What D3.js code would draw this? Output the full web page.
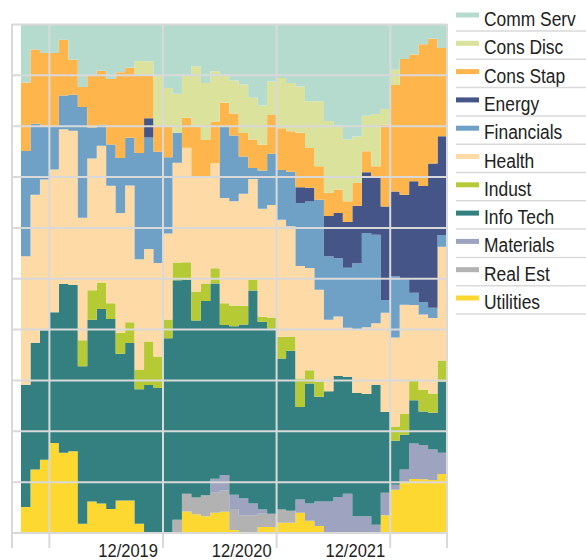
<!doctype html>
<meta charset="utf-8" />
<script src="https://cdn.jsdelivr.net/npm/d3@7"></script>
<style>
    body {
        margin: 0;
        background: white;
    }

    svg {
        display: block
    }

    text {
        font-family: "Liberation Sans", Arial, sans-serif;
        fill: #222;
    }
</style>
<svg id="chart"></svg>
<script>
    // sector weights (%) per month, 09/2018 .. 05/2022
    var sectors = ['Comm Serv', 'Cons Disc', 'Cons Stap', 'Energy', 'Financials', 'Health',
        'Indust', 'Info Tech', 'Materials', 'Real Est', 'Utilities'];
    var colors = ['#b5dbcf', '#dae29c', '#fdb54c', '#455588', '#6fa0c6', '#fedaa6',
        '#b5ca34', '#348080', '#9ea4c0', '#b2b2b2', '#fdd830'];

    var commServ = [11.4, 4.9, 5.6, 5.6, 3.0, 6.9, 12.3, 10.0, 9.1, 10.7,
        9.4, 8.5, 7.2, 7.2, 10.0, 12.5, 13.6, 10.0, 8.2, 11.5,
        9.2, 9.8, 11.0, 11.8, 14.4, 15.9, 11.2, 10.5, 11.5, 12.2,
        15.1, 15.1, 19.0, 19.9, 22.6, 22.0, 17.9, 17.6, 16.6, 8.9,
        6.8, 5.9, 3.9, 2.8, 4.6];
    var consDisc = [0, 0, 0, 0, 0, 0, 0, 0, 0, 0,
        0, 0, 2.7, 2.7, 10.0, 7.6, 7.7, 8.3, 11.8, 11.2,
        9.9, 5.6, 6.5, 9.5, 8.2, 7.7, 6.6, 9.9, 9.5, 9.1,
        9.2, 12.8, 14.1, 12.6, 12.1, 9.1, 7.0, 10.3, 3.1, 3.0,
        0, 0, 0, 0, 0];
    var consStap = [13.5, 14.6, 14.3, 14.4, 11.0, 6.9, 3.9, 10.3, 10.6, 12.9,
        16.9, 13.8, 15.4, 8.5, 5.0, 6.0, 0, 5.9, 10.0, 7.4,
        8.2, 4.6, 4.3, 4.6, 5.6, 5.1, 7.6, 8.2, 8.0, 10.7,
        7.8, 6.6, 4.6, 4.6, 4.1, 4.5, 4.1, 2.2, 16.1, 21.0,
        26.7, 24.9, 27.9, 24.5, 17.4];
    var energy = [0, 0, 0, 0, 0, 0, 0, 0, 0, 0,
        0, 0, 0, 3.8, 0, 0, 0, 0, 0, 0,
        0, 0, 0, 0, 0, 0, 0, 0, 0, 3.1,
        2.7, 0, 7.9, 8.9, 9.0, 11.3, 11.9, 11.3, 18.4, 16.7,
        16.7, 21.9, 22.9, 28.3, 19.4];
    var financials = [20.7, 14.0, 10.6, 8.5, 6.6, 7.1, 21.8, 6.1, 4.1, 8.1,
        10.8, 9.4, 20.9, 21.9, 21.9, 15.0, 5.9, 0, 0, 0,
        0, 14.1, 12.9, 7.3, 2.2, 7.5, 10.1, 9.8, 10.7, 12.4,
        13.1, 17.7, 12.5, 11.5, 11.8, 13.1, 18.5, 17.4, 2.5, 12.1,
        4.9, 2.4, 2.4, 2.0, 2.3];
    var health = [25.3, 29.1, 29.7, 28.1, 30.5, 30.3, 24.1, 25.9, 26.9, 23.1,
        23.6, 26.9, 21.7, 18.2, 18.4, 16.9, 19.6, 22.5, 22.5, 20.8,
        20.7, 20.7, 20.5, 22.0, 19.8, 21.2, 22.1, 23.0, 21.7, 22.1,
        20.1, 18.1, 14.1, 11.7, 9.6, 12.4, 13.1, 12.1, 19.5, 17.5,
        21.5, 14.8, 14.8, 14.8, 22.4];
    var indust = [0, 0, 0, 0, 0, 0, 5.1, 5.8, 5.2, 3.1,
        4.1, 4.1, 3.9, 8.5, 6.2, 3.7, 3.5, 3.5, 5.7, 3.4,
        3.0, 4.3, 4.1, 3.7, 2.1, 1.0, 2.2, 4.3, 2.8, 5.6,
        2.6, 3.0, 0, 0, 0, 0, 0, 0, 0, 2.8,
        4.1, 3.9, 4.3, 3.8, 4.1];
    var infoTech = [24.1, 24.9, 25.5, 25.7, 33.2, 32.7, 31.0, 35.8, 38.2, 37.4,
        28.9, 31.0, 26.5, 29.1, 28.5, 38.3, 47.1, 42.0, 34.8, 38.2,
        38.4, 29.5, 33.1, 34.1, 41.9, 36.9, 36.4, 29.7, 31.5, 18.2,
        23.6, 20.6, 21.7, 23.8, 23.0, 24.2, 24.0, 27.6, 15.9, 8.7,
        6.8, 8.5, 6.6, 7.2, 14.0];
    var materials = [0, 0, 0, 0, 0, 0, 0, 0, 0, 0,
        0, 0, 0, 0, 0, 0, 0, 0, 0, 0,
        2.8, 3.1, 2.8, 3.3, 2.3, 0.8, 0, 0, 0, 2.6,
        3.4, 4.8, 6.2, 7.1, 7.7, 3.3, 3.3, 1.6, 4.4, 1.0,
        2.6, 7.0, 6.7, 6.0, 4.2];
    var realEst = [0, 0, 0, 0, 0, 0, 0, 0, 0, 0,
        0, 0, 0, 0, 0, 0, 2.6, 3.5, 3.3, 4.1,
        3.9, 4.1, 4.1, 3.5, 3.5, 2.6, 2.6, 2.6, 2.4, 0,
        0, 0, 0, 0, 0, 0, 0, 0, 0, 0,
        0, 0, 0, 0, 0];
    var utilities = [5.1, 12.5, 14.4, 17.7, 15.8, 16.1, 1.8, 6.2, 5.8, 4.7,
        6.4, 6.4, 1.8, 0, 0, 0, 0, 4.2, 3.7, 3.3,
        4.0, 4.2, 0.6, 0, 0, 1.2, 1.2, 2.0, 2.0, 4.0,
        2.4, 1.4, 0, 0, 0, 0, 0, 0, 3.5, 8.5,
        9.9, 10.6, 10.6, 10.4, 11.6];

    var values = [commServ, consDisc, consStap, energy, financials, health,
        indust, infoTech, materials, realEst, utilities];

    var fmt = d3.timeFormat('%m/%Y');
    var months = d3.timeMonth.range(new Date(2018, 8, 1), new Date(2022, 5, 1)).map(fmt);
    var gridMonths = ['12/2018', '12/2019', '12/2020', '12/2021'];
    var tickLabels = ['12/2019', '12/2020', '12/2021'];

    var rows = months.map(function (m, i) {
        var r = { month: m, i: i };
        sectors.forEach(function (s, k) { r[s] = values[k][i]; });
        return r;
    });

    var W = 586, H = 560;
    var narrow = 0.87;
    var svg = d3.select('svg#chart')
        .attr('width', W)
        .attr('height', H);

    var x = d3.scaleLinear().domain([0, months.length]).range([21, 447]);
    var y = d3.scaleLinear().domain([0, 1]).range([533, 24.5]);

    var stack = d3.stack()
        .keys(sectors.slice().reverse())
        .offset(d3.stackOffsetExpand);
    var layers = stack(rows);

    var area = d3.area()
        .curve(d3.curveStepAfter)
        .x(d => x(d.i))
        .y0(d => y(d.y0))
        .y1(d => y(d.y1));

    svg.append('g')
        .selectAll('path')
        .data(layers)
        .enter()
        .append('path')
        .attr('fill', d => colors[sectors.indexOf(d.key)])
        .attr('d', function (d) {
            var pts = d.map((p, i) => ({ i: i, y0: p[0], y1: p[1] }));
            var last = pts[pts.length - 1];
            pts.push({ i: pts.length, y0: last.y0, y1: last.y1 });
            return area(pts);
        });

    // grid
    var grid = svg.append('g')
        .attr('stroke', '#d9d9d9')
        .attr('stroke-width', 2);

    grid.selectAll('line.h')
        .data(y.ticks(10))
        .enter()
        .append('line')
        .attr('x1', 12)
        .attr('x2', 447)
        .attr('y1', d => y(d))
        .attr('y2', d => y(d));

    var vx = [12, 447].concat(gridMonths.map(m => x(months.indexOf(m))));
    grid.selectAll('line.v')
        .data(vx)
        .enter()
        .append('line')
        .attr('x1', d => d)
        .attr('x2', d => d)
        .attr('y1', 24)
        .attr('y2', 548);

    svg.append('g')
        .selectAll('text')
        .data(tickLabels)
        .enter()
        .append('text')
        .attr('transform', d => 'translate(' + (x(months.indexOf(d)) - 5) + ',557) scale(' + narrow + ',1)')
        .attr('text-anchor', 'end')
        .style('font-size', '19px')
        .text(d => d);

    // legend
    var legend = svg.append('g')
        .selectAll('g')
        .data(sectors)
        .enter()
        .append('g')
        .attr('transform', (d, i) => 'translate(0,' + (15 + i * 28.3) + ')');

    legend.append('line')
        .attr('x1', 456)
        .attr('x2', 479)
        .attr('stroke', (d, i) => colors[i])
        .attr('stroke-width', 5);

    legend.append('text')
        .attr('transform', 'translate(484,11) scale(' + narrow + ',1)')
        .style('font-size', '20px')
        .text(d => d);

    legend.append('line')
        .attr('x1', 456)
        .attr('x2', W)
        .attr('y1', 16)
        .attr('y2', 16)
        .attr('stroke', '#d9d9d9')
        .attr('stroke-width', 1.5);
</script>
